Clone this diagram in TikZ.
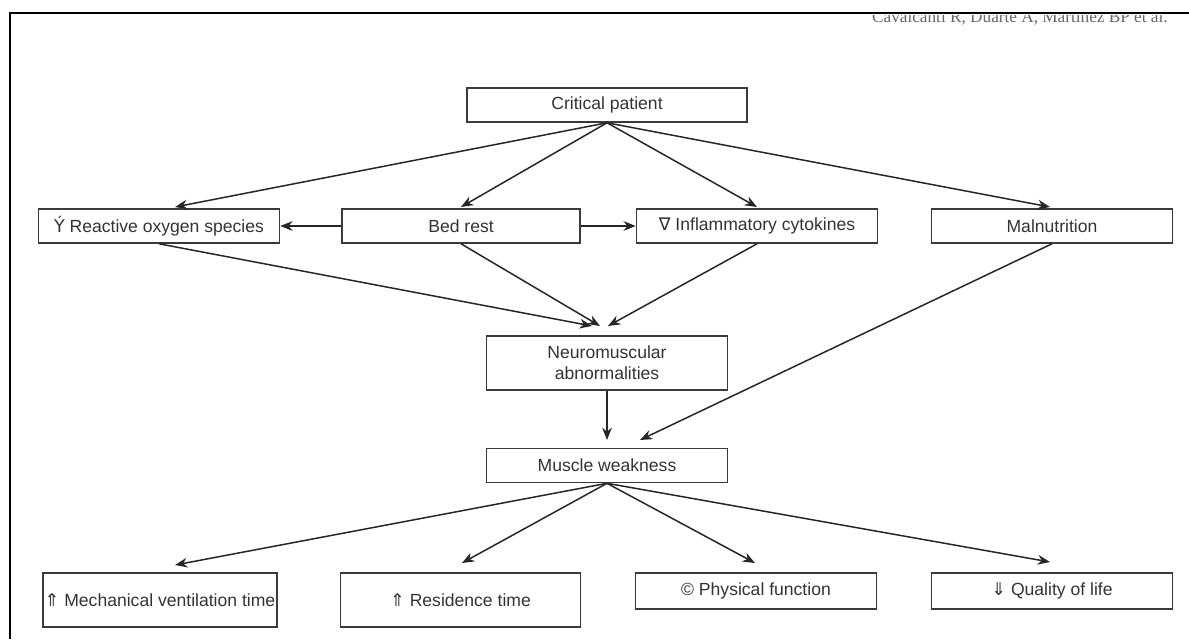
\documentclass[tikz,border=0pt]{standalone}
\usepackage{fontspec}
\setmainfont{Liberation Sans}
\newfontfamily\headfont{Liberation Serif}
\newfontfamily\symfont{DejaVu Sans}
\usetikzlibrary{arrows.meta,positioning}
\definecolor{boxline}{HTML}{3A3A3A}
\definecolor{boxtext}{HTML}{333333}

\begin{document}
\begin{tikzpicture}[
  x=0.02cm, y=-0.02cm,
  box/.style={rectangle, draw=boxline, line width=0.9pt, align=center,
              inner sep=1pt, font=\fontsize{10}{12}\selectfont, text=boxtext,
              minimum width=4.82cm, minimum height=0.68cm},
  tallbox/.style={box, minimum height=1.08cm},
  edge/.style={draw=black!85, -{Stealth[length=7pt,width=5.5pt]}, line width=0.85pt},
]
  \useasboundingbox (0,0) rectangle (1189,639);

  % page frame and running head
  \draw[line width=1.7pt] (10,639) -- (10,13) -- (1189,13);
  \begin{scope}
    \clip (850,15) rectangle (1189,40);
    \node[font=\headfont\fontsize{9.8}{12}\selectfont, text=black!60,
          anchor=base east, inner sep=0pt] (head) at (1168,22)
         {Cavalcanti R, Duarte A, Martinez BP et al.};
  \end{scope}

  % top
  \node[box, minimum width=5.6cm] (patient) at (607,105) {Critical patient};

  % causes
  \node[box] (ros) at (159,226) {{\symfont Ý} Reactive oxygen species};
  \node[box, minimum width=4.76cm] (bedrest) at (461,226) {Bed rest};
  \node[box] (cyto) at (757,226) {{\symfont ∇} Inflammatory cytokines};
  \node[box] (malnut) at (1052,226) {Malnutrition};

  % middle
  \node[tallbox] (neuro) at (607,363) {Neuromuscular\\ abnormalities};
  \node[box] (weak) at (607,465.5) {Muscle weakness};

  % outcomes
  \node[tallbox, minimum width=4.68cm] (ventil) at (160,600)
       {{\symfont ⇑} Mechanical ventilation time};
  \node[tallbox, minimum width=4.8cm] (stay) at (460.5,600)
       {{\symfont ⇑} Residence time};
  \node[box, minimum height=0.72cm] (physfn) at (756,591)
       {© Physical function};
  \node[box, minimum height=0.72cm] (qol) at (1052,591)
       {{\symfont ⇓} Quality of life};

  % arrow ends
  \coordinate (rosin) at (175,207);
  \coordinate (bedin) at (461,207);
  \coordinate (cytoin) at (757,207);
  \coordinate (malin) at (1050,207);
  \coordinate (nmA) at (592,326);
  \coordinate (nmB) at (600,326);
  \coordinate (nmC) at (608,326);
  \coordinate (weakin) at (607,440);
  \coordinate (malweak) at (640,440);
  \coordinate (ventin) at (175,565);
  \coordinate (stayin) at (462,563);
  \coordinate (physin) at (755,563);
  \coordinate (qolin) at (1050,562);

  % edges
  \draw[edge] (patient.south) -- (rosin);
  \draw[edge] (patient.south) -- (bedin);
  \draw[edge] (patient.south) -- (cytoin);
  \draw[edge] (patient.south) -- (malin);

  \draw[edge] (bedrest.west) -- (ros.east);
  \draw[edge] (bedrest.east) -- (cyto.west);

  \draw[edge] (ros.south) -- (nmA);
  \draw[edge] (bedrest.south) -- (nmB);
  \draw[edge] (cyto.south) -- (nmC);

  \draw[edge] (neuro.south) -- (weakin);
  \draw[edge] (malnut.south) -- (malweak);

  \draw[edge] (weak.south) -- (ventin);
  \draw[edge] (weak.south) -- (stayin);
  \draw[edge] (weak.south) -- (physin);
  \draw[edge] (weak.south) -- (qolin);

\end{tikzpicture}
\end{document}
